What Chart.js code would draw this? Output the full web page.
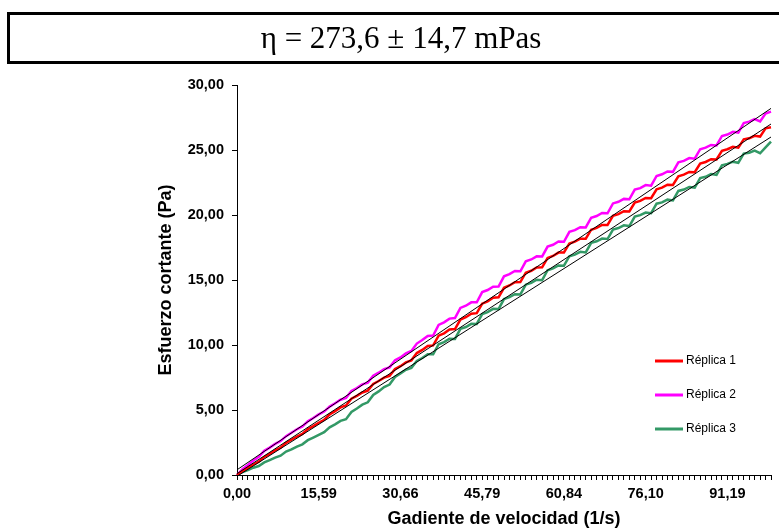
<!DOCTYPE html>
<html>
<head>
<meta charset="utf-8">
<script src="https://cdn.jsdelivr.net/npm/chart.js@4.4.1/dist/chart.umd.min.js"></script>
<style>
html, body { margin: 0; padding: 0; background: #fff; overflow: hidden; }
#wrap { position: relative; width: 779px; height: 528px; }
#myChart { position: absolute; left: 0; top: 0; }
#box { position: absolute; left: 7px; top: 12px; width: 800px; height: 46px; border: 3px solid #000; background: #fff; }
#eta { position: absolute; left: 0; top: 12px; width: 802px; height: 52px; line-height: 52px; text-align: center;
       font-family: "Liberation Serif", "Times New Roman", serif; font-size: 31px; color: #000; }
</style>
</head>
<body>
<div id="wrap">
  <canvas id="myChart" width="779" height="528"></canvas>
  <div id="box"></div>
  <div id="eta">η = 273,6 ± 14,7 mPas</div>
</div>
<script>
// shear rate tick labels, one every 15 points
const tickLabels = ['0,00', '15,59', '30,66', '45,79', '60,84', '76,10', '91,19'];
const labelStep = 15;

const seriesNames  = ['Réplica 1', 'Réplica 2', 'Réplica 3'];
const seriesColors = ['#ff0000', '#ff00ff', '#339966'];

// shear stress (Pa)
const replica1 = [
  0.00, 0.31, 0.55, 0.81, 1.02, 1.39, 1.63, 1.89, 2.10, 2.47,
  2.71, 2.96, 3.16, 3.53, 3.76, 4.02, 4.25, 4.65, 4.91, 5.20,
  5.35, 5.87, 6.09, 6.35, 6.49, 7.01, 7.23, 7.49, 7.63, 8.15,
  8.37, 8.66, 8.82, 9.38, 9.62, 9.93, 9.97, 10.72, 10.90, 11.19,
  11.23, 11.96, 12.14, 12.41, 12.45, 13.18, 13.36, 13.63, 13.67, 14.40,
  14.58, 14.83, 14.84, 15.56, 15.71, 15.97, 15.98, 16.70, 16.85, 17.11,
  17.12, 17.81, 17.95, 18.18, 18.18, 18.87, 19.01, 19.24, 19.24, 19.93,
  20.07, 20.29, 20.27, 20.96, 21.08, 21.31, 21.29, 21.98, 22.10, 22.33,
  22.31, 22.98, 23.10, 23.31, 23.29, 23.96, 24.08, 24.29, 24.27, 24.94,
  25.06, 25.24, 25.18, 25.82, 25.90, 26.09, 26.03, 26.67, 26.75
];
const replica2 = [
  0.00, 0.44, 0.77, 1.11, 1.40, 1.86, 2.11, 2.39, 2.61, 2.99,
  3.25, 3.52, 3.74, 4.13, 4.38, 4.66, 4.88, 5.26, 5.52, 5.79,
  5.93, 6.47, 6.69, 6.97, 7.11, 7.64, 7.87, 8.14, 8.28, 8.82,
  9.04, 9.35, 9.54, 10.11, 10.38, 10.70, 10.73, 11.55, 11.74, 12.03,
  12.07, 12.85, 13.02, 13.28, 13.28, 14.07, 14.23, 14.49, 14.50, 15.28,
  15.45, 15.69, 15.67, 16.44, 16.58, 16.82, 16.81, 17.57, 17.71, 17.96,
  17.94, 18.70, 18.83, 19.06, 19.04, 19.79, 19.92, 20.16, 20.13, 20.89,
  21.02, 21.24, 21.21, 21.95, 22.07, 22.30, 22.26, 23.00, 23.13, 23.35,
  23.32, 24.05, 24.16, 24.38, 24.33, 25.06, 25.18, 25.39, 25.35, 26.08,
  26.19, 26.40, 26.34, 27.07, 27.18, 27.38, 27.20, 27.80, 27.95
];
const replica3 = [
  0.00, 0.23, 0.38, 0.56, 0.69, 0.97, 1.15, 1.34, 1.49, 1.80,
  1.97, 2.19, 2.36, 2.68, 2.88, 3.09, 3.30, 3.67, 3.90, 4.16,
  4.29, 4.85, 5.11, 5.41, 5.59, 6.16, 6.43, 6.76, 6.96, 7.54,
  7.82, 8.10, 8.24, 8.78, 9.00, 9.29, 9.29, 10.06, 10.22, 10.48,
  10.47, 11.24, 11.38, 11.63, 11.62, 12.38, 12.53, 12.78, 12.76, 13.53,
  13.68, 13.91, 13.89, 14.64, 14.78, 15.02, 14.99, 15.75, 15.89, 16.12,
  16.10, 16.83, 16.95, 17.17, 17.12, 17.86, 17.98, 18.19, 18.15, 18.88,
  19.00, 19.21, 19.15, 19.88, 19.99, 20.19, 20.14, 20.87, 20.97, 21.18,
  21.12, 21.85, 21.96, 22.16, 22.11, 22.84, 22.94, 23.15, 23.09, 23.82,
  23.93, 24.10, 24.02, 24.72, 24.79, 24.95, 24.75, 25.20, 25.65
];

// linear fits (black lines): value at first and last point
const fitStart = [0.10, 0.40, -0.10];
const fitEnd   = [27.00, 28.20, 26.00];

const categories = replica1.map((_, i) => i % labelStep === 0 ? tickLabels[i / labelStep] : '');
const last = categories.length - 1;

const fmt = v => v.toFixed(2).replace('.', ',');
const axisFont  = { family: '"Liberation Sans", Arial, sans-serif', size: 14.5, weight: 'bold' };
const titleFont = { family: '"Liberation Sans", Arial, sans-serif', size: 18, weight: 'bold' };

const replicaSets = [replica1, replica2, replica3].map((values, k) => ({
    label: seriesNames[k],
    data: values,
    borderColor: seriesColors[k],
    backgroundColor: seriesColors[k],
    borderWidth: 2.5,
    pointRadius: 0,
    tension: 0,
    order: 1,
    isReplica: true
}));

const fitSets = fitStart.map((a, k) => ({
    label: 'Ajuste ' + (k + 1),
    data: categories.map((_, i) => i === 0 ? a : (i === last ? fitEnd[k] : null)),
    spanGaps: true,
    borderColor: '#000',
    borderWidth: 1,
    pointRadius: 0,
    order: 0
}));

const insideLegend = {
    id: 'insideLegend',
    afterDatasetsDraw(chart) {
        const ctx = chart.ctx;
        ctx.save();
        ctx.font = '12px "Liberation Sans", Arial, sans-serif';
        ctx.textBaseline = 'middle';
        ctx.fillStyle = '#000';
        chart.data.datasets.filter(d => d.isReplica).forEach((d, k) => {
            const y = 361 + k * 34;
            ctx.strokeStyle = d.borderColor;
            ctx.lineWidth = 3;
            ctx.beginPath();
            ctx.moveTo(655, y);
            ctx.lineTo(683, y);
            ctx.stroke();
            ctx.fillText(d.label, 686, y);
        });
        ctx.restore();
    }
};

const chart = new Chart(document.getElementById('myChart'), {
    type: 'line',
    data: {
        labels: categories,
        datasets: [...replicaSets, ...fitSets]
    },
    options: {
        responsive: false,
        animation: false,
        layout: { padding: { left: 0, right: 8, top: 85, bottom: 0 } },
        plugins: {
            legend: { display: false },
            tooltip: { enabled: false }
        },
        scales: {
            x: {
                type: 'category',
                offset: false,
                grid: { display: true, drawOnChartArea: false, drawTicks: true, tickLength: 5, tickColor: '#000', color: '#000' },
                border: { display: true, color: '#000', width: 1 },
                ticks: { autoSkip: false, maxRotation: 0, minRotation: 0, color: '#000', font: axisFont, padding: 5 },
                title: { display: true, text: 'Gadiente de velocidad (1/s)', color: '#000', font: titleFont, padding: { top: 0, bottom: -2 } },
                afterFit: s => { s.height = 53; }
            },
            y: {
                min: 0,
                max: 30,
                grid: { display: true, drawOnChartArea: false, drawTicks: true, tickLength: 5, tickColor: '#000', color: '#000' },
                border: { display: true, color: '#000', width: 1 },
                ticks: { stepSize: 5, color: '#000', font: axisFont, padding: 8, callback: v => fmt(v) },
                title: { display: true, text: 'Esfuerzo cortante (Pa)', color: '#000', font: titleFont, padding: { top: 155, bottom: 0 } },
                afterFit: s => { s.width = 237; }
            }
        }
    },
    plugins: [insideLegend]
});
</script>
</body>
</html>
